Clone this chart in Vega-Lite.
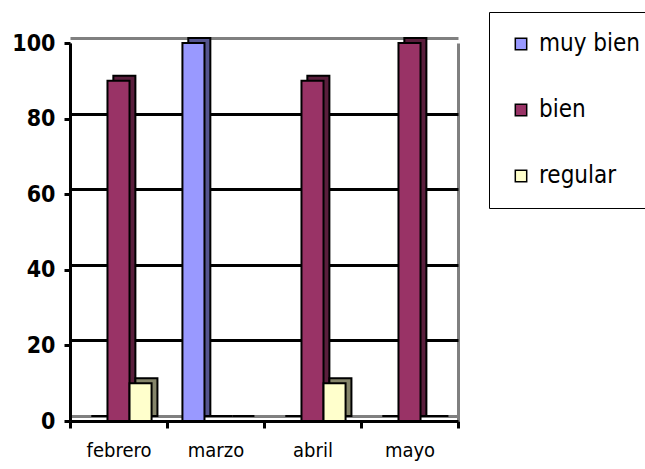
{
  "$schema": "https://vega.github.io/schema/vega-lite/v6.json",
  "width": 388,
  "height": 378,
  "autosize": "none",
  "padding": {"left": 70, "top": 43, "right": 187, "bottom": 48},
  "background": "white",
  "config": {
    "view": {"stroke": null},
    "font": "DejaVu Sans Condensed, sans-serif"
  },
  "data": {
    "values": [
      {"mes": "febrero", "nivel": "muy bien", "valor": 0},
      {"mes": "febrero", "nivel": "bien", "valor": 90},
      {"mes": "febrero", "nivel": "regular", "valor": 10},
      {"mes": "marzo", "nivel": "muy bien", "valor": 100},
      {"mes": "marzo", "nivel": "bien", "valor": 0},
      {"mes": "marzo", "nivel": "regular", "valor": 0},
      {"mes": "abril", "nivel": "muy bien", "valor": 0},
      {"mes": "abril", "nivel": "bien", "valor": 90},
      {"mes": "abril", "nivel": "regular", "valor": 10},
      {"mes": "mayo", "nivel": "muy bien", "valor": 0},
      {"mes": "mayo", "nivel": "bien", "valor": 100},
      {"mes": "mayo", "nivel": "regular", "valor": 0}
    ]
  },
  "encoding": {
    "x": {
      "field": "mes",
      "type": "nominal",
      "sort": ["febrero", "marzo", "abril", "mayo"],
      "scale": {"paddingInner": 0, "paddingOuter": 0}
    },
    "y": {
      "field": "valor",
      "type": "quantitative",
      "scale": {"domain": [0, 100], "nice": false}
    }
  },
  "layer": [
    {
      "mark": {
        "type": "bar",
        "yOffset": -5,
        "y2Offset": 0,
        "stroke": "black",
        "strokeWidth": 2
      },
      "encoding": {
        "x": {
          "field": "mes",
          "type": "nominal",
          "sort": ["febrero", "marzo", "abril", "mayo"],
          "axis": {
            "orient": "bottom",
            "title": null,
            "tickBand": "extent",
            "tickOffset": 6,
            "grid": true,
            "gridWidth": 3,
            "gridColor": "#808080",
            "gridOpacity": {"condition": {"test": "datum.extra || datum.value === 'mayo'", "value": 1}, "value": 0},
            "domain": false,
            "ticks": false,
            "labels": false
          }
        },
        "xOffset": {
          "field": "nivel",
          "type": "nominal",
          "sort": ["muy bien", "bien", "regular"],
          "scale": {"paddingInner": 0, "paddingOuter": 0.7, "align": 0.69}
        },
        "y": {
          "field": "valor",
          "type": "quantitative",
          "axis": {
            "orient": "left",
            "values": [0, 20, 40, 60, 80, 100],
            "grid": true,
            "gridWidth": 3,
            "gridColor": {"condition": {"test": "datum.value === 0 || datum.value === 100", "value": "#808080"}, "value": "black"},
            "tickOffset": -5,
            "domain": false,
            "ticks": false,
            "labels": false,
            "title": null
          }
        },
        "color": {
          "field": "nivel",
          "type": "nominal",
          "sort": ["muy bien", "bien", "regular"],
          "scale": {"range": ["#55558F", "#5A1E3C", "#85856A"]},
          "legend": null
        }
      }
    },
    {
      "mark": {"type": "bar", "stroke": "black", "strokeWidth": 2},
      "encoding": {
        "x": {
          "field": "mes",
          "type": "nominal",
          "sort": ["febrero", "marzo", "abril", "mayo"],
          "axis": {
            "orient": "bottom",
            "title": null,
            "tickBand": "extent",
            "labelAngle": 0,
            "labelFontSize": 20,
            "labelColor": "black",
            "labelPadding": 12,
            "tickSize": 7,
            "tickWidth": 3,
            "tickColor": "black",
            "domainColor": "black",
            "domainWidth": 3,
            "grid": false
          }
        },
        "xOffset": {
          "field": "nivel",
          "type": "nominal",
          "sort": ["muy bien", "bien", "regular"],
          "scale": {"paddingInner": 0, "paddingOuter": 0.7}
        },
        "y": {
          "field": "valor",
          "type": "quantitative",
          "axis": {
            "orient": "left",
            "values": [0, 20, 40, 60, 80, 100],
            "grid": false,
            "title": null,
            "labelFontSize": 23,
            "labelFontWeight": "bold",
            "labelColor": "black",
            "labelPadding": 9,
            "tickSize": 6,
            "tickWidth": 3,
            "tickColor": "black",
            "domainColor": "black",
            "domainWidth": 3
          }
        },
        "color": {
          "field": "nivel",
          "type": "nominal",
          "sort": ["muy bien", "bien", "regular"],
          "scale": {"range": ["#9999FF", "#993366", "#FFFFCC"]},
          "legend": {
            "title": null,
            "orient": "none",
            "legendX": 419,
            "legendY": -31,
            "fillColor": "white",
            "strokeColor": "black",
            "padding": 20,
            "symbolType": "square",
            "symbolSize": 130,
            "symbolStrokeColor": "black",
            "symbolStrokeWidth": 1.5,
            "labelFontSize": 24,
            "labelColor": "black",
            "labelLimit": 300,
            "labelOffset": 6,
            "rowPadding": 42
          }
        }
      }
    }
  ],
  "resolve": {"scale": {"color": "independent", "xOffset": "independent"}, "axis": {"x": "independent", "y": "independent"}}
}
